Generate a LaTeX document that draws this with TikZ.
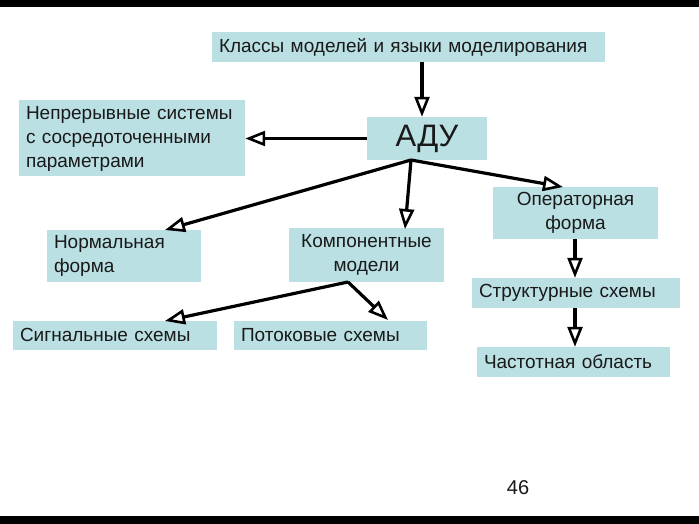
\documentclass[tikz,border=0pt]{standalone}
\usepackage{fontspec}
\setmainfont{Liberation Sans}
\usetikzlibrary{arrows.meta,calc}
\definecolor{boxc}{RGB}{187,224,227}
\definecolor{txtc}{RGB}{25,25,25}
\tikzset{
  box/.style={fill=boxc, inner ysep=0pt, inner xsep=7pt, text=txtc,
    font=\fontsize{19}{24}\selectfont},
  conn/.style={line width=3.2pt, draw=black,
    -{Triangle[open,length=20pt,width=15pt,line width=2.6pt]}}
}
\begin{document}
\begin{tikzpicture}[x=1pt,y=-1pt]
\useasboundingbox (0,0) rectangle (699,524);
\fill[white] (0,0) rectangle (699,524);
\fill[black] (0,0) rectangle (699,7);
\fill[black] (0,516) rectangle (699,524);

% nodes
\node[box, text width=379pt, minimum height=30pt, align=left] (klassy) at (408.5,47) {Классы моделей и языки моделирования};
\node[box, text width=212pt, minimum height=76pt, align=left] (nepr) at (132,138.5) {Непрерывные системы\\с сосредоточенными\\параметрами};
\node[box, inner xsep=0pt, minimum width=120pt, minimum height=43pt, font=\fontsize{31}{35}\selectfont] (adu) at (427,138.5) {АДУ};
\node[box, text width=151pt, minimum height=52pt, align=center] (oper) at (575.5,213) {Операторная\\форма};
\node[box, text width=140pt, minimum height=52pt, align=left] (norm) at (124,256) {Нормальная\\форма};
\node[box, text width=141pt, minimum height=54pt, align=center] (komp) at (366.5,255) {Компонентные\\модели};
\node[box, text width=194pt, minimum height=30pt, align=left] (strukt) at (576,293) {Структурные схемы};
\node[box, text width=190pt, minimum height=29pt, align=left] (sign) at (115,335) {Сигнальные схемы};
\node[box, text width=179pt, minimum height=29pt, align=left] (potok) at (330.5,335) {Потоковые схемы};
\node[box, text width=179pt, minimum height=30pt, align=left] (chast) at (573.5,362) {Частотная область};
\node[text=txtc, font=\fontsize{20}{24}\selectfont, inner sep=0pt] (num) at (518,488) {46};

% branch points
\coordinate (aduB) at (411,160);
\coordinate (kompB) at (348,282);

% connectors
\draw[conn] (klassy.south -| 422,0) -- (adu.north -| 422,0);
\draw[conn] (adu.west) -- (nepr.east);
\draw[conn] (aduB) -- (165,230);
\draw[conn] (aduB) -- (405,229);
\draw[conn] (aduB) -- (563,187);
\draw[conn] (kompB) -- (165,321);
\draw[conn] (kompB) -- (388,320);
\draw[conn] (oper.south -| 575,0) -- (strukt.north -| 575,0);
\draw[conn] (strukt.south -| 575,0) -- (chast.north -| 575,0);
\end{tikzpicture}
\end{document}
